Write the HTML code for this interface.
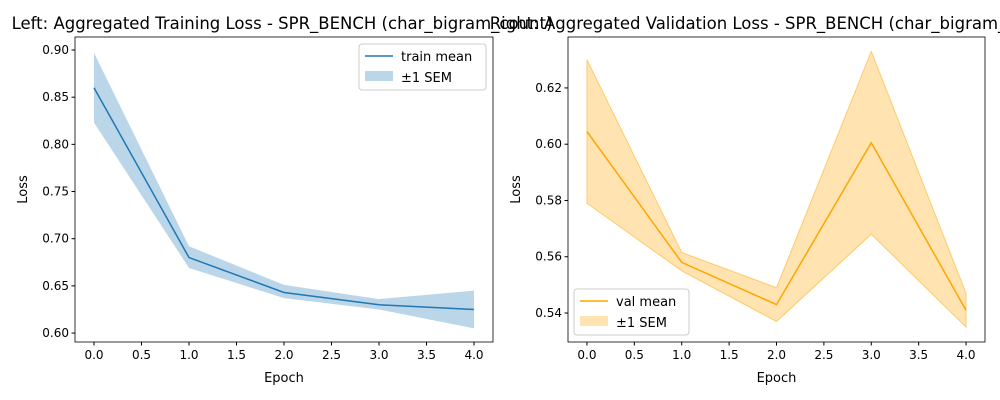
<!DOCTYPE html>
<html><head><meta charset="utf-8"><style>body{margin:0;background:#fff}svg{display:block;font-family:"DejaVu Sans","Liberation Sans",sans-serif}</style></head>
<body>
<svg id="c" width="1000" height="400"></svg>
<script>
const epochs=[0,1,2,3,4];
const trainMean=[0.860,0.680,0.643,0.630,0.625];
const trainHi=[0.897,0.692,0.651,0.636,0.645];
const trainLo=[0.823,0.669,0.637,0.625,0.605];
const valMean=[0.6045,0.558,0.543,0.6005,0.541];
const valHi=[0.630,0.5615,0.549,0.633,0.547];
const valLo=[0.579,0.555,0.537,0.568,0.535];
const xTicks=[0,0.5,1,1.5,2,2.5,3,3.5,4];
const leftYTicks=[0.60,0.65,0.70,0.75,0.80,0.85,0.90];
const rightYTicks=[0.54,0.56,0.58,0.60,0.62];
const NS="http://www.w3.org/2000/svg";
const svg=document.getElementById('c');
function mk(t,a,p){const e=document.createElementNS(NS,t);for(const k in a)e.setAttribute(k,a[k]);(p||svg).appendChild(e);return e;}
function panel(o){
 const g=mk('g',{});
 
 
 const X=v=>o.x0+(v-(-0.2))/(4.4)*(o.x1-o.x0);
 const Y=v=>o.y1-(v-o.ymin)/(o.ymax-o.ymin)*(o.y1-o.y0);
 let d='M'+epochs.map((e,i)=>X(e)+','+Y(o.hi[i])).join('L')+'L'+epochs.slice().reverse().map((e,j)=>X(e)+','+Y(o.lo[4-j])).join('L')+'Z';
 const band=mk('path',{d:d,fill:o.band,'fill-opacity':o.bandOp,stroke:o.bandStroke||'none','stroke-opacity':0.5},g);
 
 
 const ln=mk('polyline',{points:epochs.map((e,i)=>X(e)+','+Y(o.mean[i])).join(' '),fill:'none',stroke:o.color,'stroke-width':1.5},g);
 
 
 mk('rect',{x:o.x0,y:o.y0,width:o.x1-o.x0,height:o.y1-o.y0,fill:'none',stroke:'#000','stroke-width':0.8},g);
 xTicks.forEach(t=>{const x=X(t);mk('line',{x1:x,x2:x,y1:o.y1,y2:o.y1+3.5,stroke:'#000'},g);
  const tx=mk('text',{x:x,y:o.y1+17,'text-anchor':'middle','font-size':12},g);tx.textContent=t.toFixed(1);});
 o.yt.forEach(t=>{const y=Y(t);mk('line',{x1:o.x0-3.5,x2:o.x0,y1:y,y2:y,stroke:'#000'},g);
  const tx=mk('text',{x:o.x0-6,y:y+4,'text-anchor':'end','font-size':12},g);tx.textContent=t.toFixed(2);});
 const xl=mk('text',{x:(o.x0+o.x1)/2,y:382,'text-anchor':'middle','font-size':13},g);xl.textContent='Epoch';
 
 const yl=mk('text',{x:0,y:0,'text-anchor':'middle','font-size':13,transform:`translate(${o.x0-48},${(o.y0+o.y1)/2}) rotate(-90)`},g);yl.textContent='Loss';
 
 const ti=mk('text',{x:(o.x0+o.x1)/2-2,y:29,'text-anchor':'middle','font-size':16.5},g);ti.textContent=o.title;
 
 const L=mk('g',{},g);
 mk('rect',{x:o.lx,y:o.ly,width:o.lw,height:46,rx:3,fill:'#fff','fill-opacity':0.8,stroke:'#ccc'},L);
 mk('line',{x1:o.lx+6,x2:o.lx+34,y1:o.ly+12,y2:o.ly+12,stroke:o.color,'stroke-width':1.5},L);
 mk('rect',{x:o.lx+6,y:o.ly+27,width:28,height:10,fill:o.band,'fill-opacity':o.bandOp},L);
 const t1=mk('text',{x:o.lx+42,y:o.ly+17,'font-size':13},L);t1.textContent=o.lab;
 const t2=mk('text',{x:o.lx+42,y:o.ly+38,'font-size':13},L);t2.textContent='±1 SEM';
}
panel({name:'left-panel',x0:75,x1:493,y0:37,y1:342,ymin:0.5905,ymax:0.9138,mean:trainMean,hi:trainHi,lo:trainLo,color:'#1f77b4',band:'#1f77b4',bandOp:0.3,yt:leftYTicks,title:'Left: Aggregated Training Loss - SPR_BENCH (char_bigram_count)',lx:359,ly:44,lw:127,lab:'train mean'});
panel({name:'right-panel',x0:568,x1:985,y0:37,y1:342,ymin:0.5297,ymax:0.6381,mean:valMean,hi:valHi,lo:valLo,color:'#ffa500',band:'#ffa500',bandOp:0.3,bandStroke:'#ffa500',yt:rightYTicks,title:'Right: Aggregated Validation Loss - SPR_BENCH (char_bigram_count)',lx:574,ly:289,lw:115,lab:'val mean'});
</script>
</body></html>
